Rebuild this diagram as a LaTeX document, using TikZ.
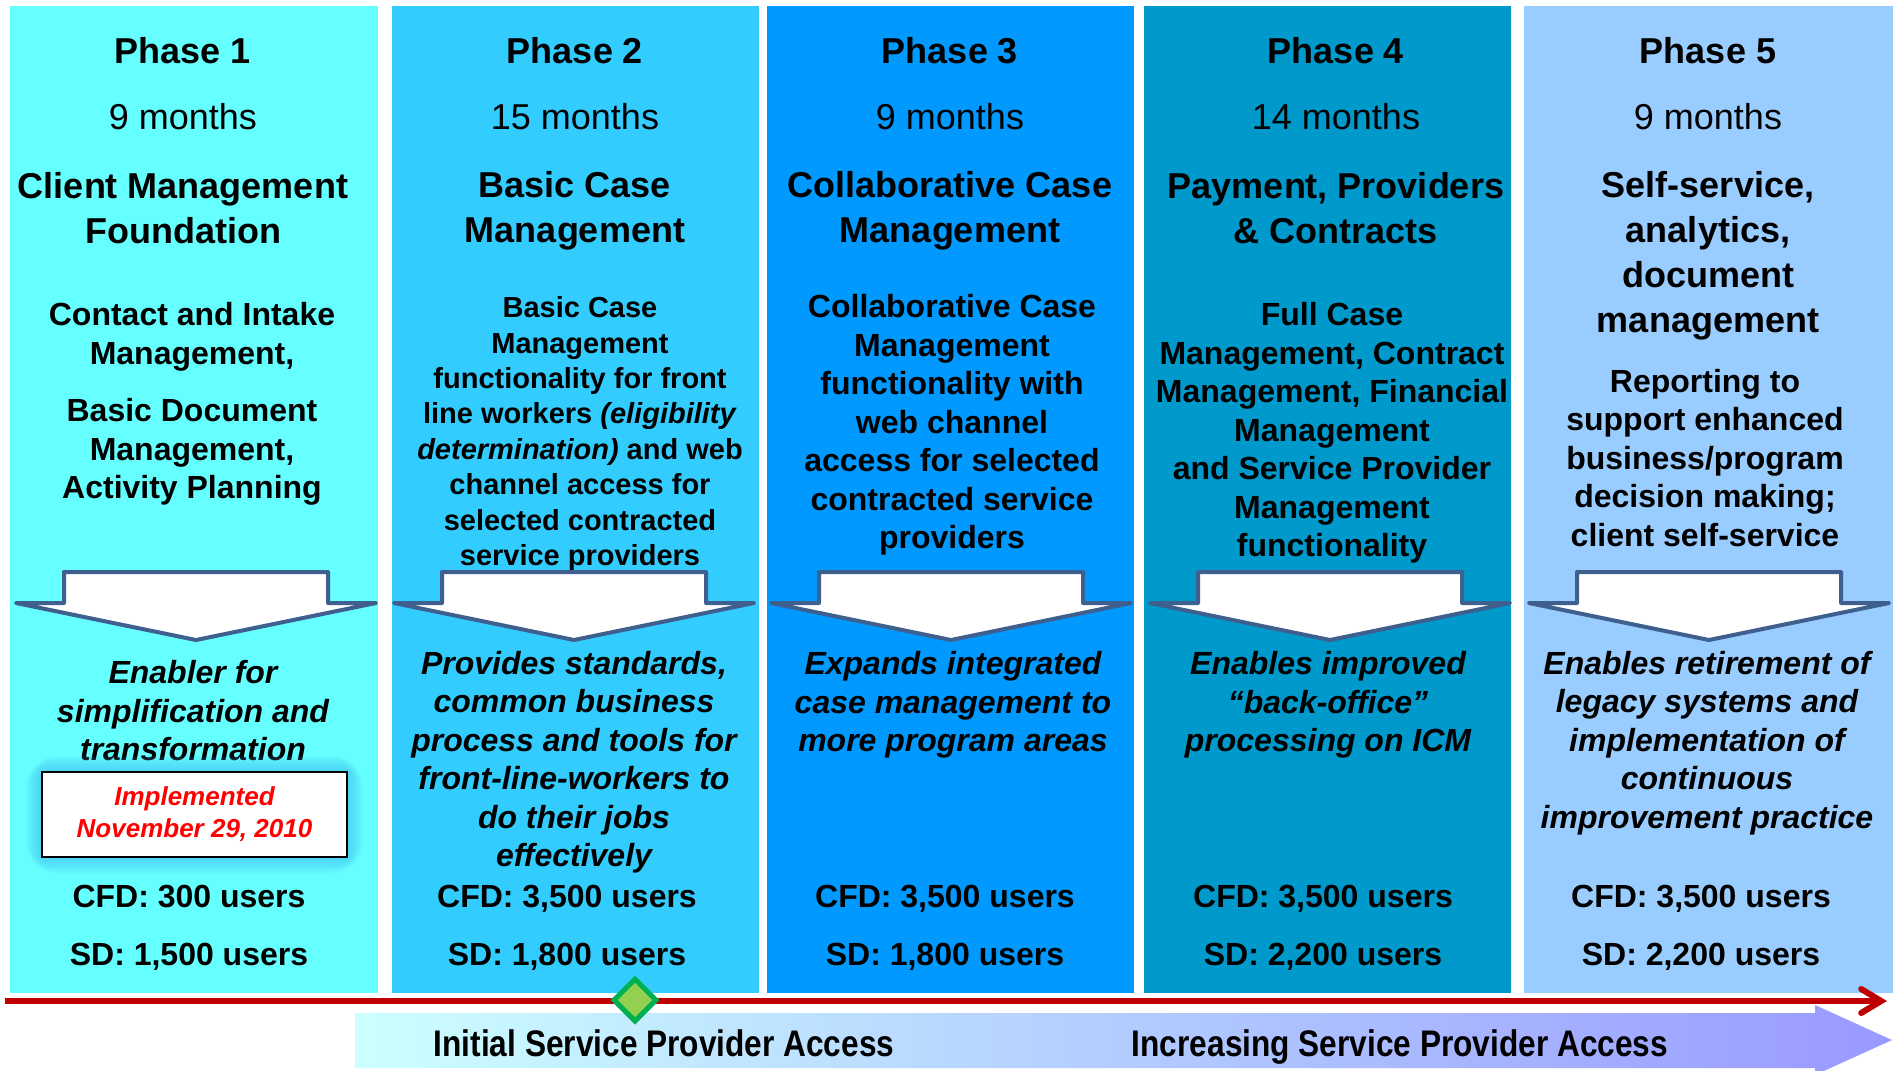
\documentclass[tikz,border=0pt]{standalone}
\usepackage{fontspec}
\setmainfont{Liberation Sans}
\newfontfamily\narrowfont[FakeStretch=0.855]{Liberation Sans}
\usetikzlibrary{positioning,arrows.meta,calc,shapes.geometric}

\definecolor{phaseA}{HTML}{66FFFF}
\definecolor{phaseB}{HTML}{33CCFF}
\definecolor{phaseC}{HTML}{0099FF}
\definecolor{phaseD}{HTML}{0099CC}
\definecolor{phaseE}{HTML}{99CCFF}
\definecolor{arrowedge}{HTML}{3F5F8F}
\definecolor{timered}{HTML}{C00000}
\definecolor{msfill}{HTML}{92D050}
\definecolor{msedge}{HTML}{00B050}
\definecolor{bannerL}{HTML}{CCFFFF}
\definecolor{bannerM}{HTML}{B8D8FF}
\definecolor{bannerR}{HTML}{9999FF}
\definecolor{glowc}{HTML}{3FBFF0}

\tikzset{
  col/.style={rectangle, draw=none, inner sep=0, minimum height=493.5pt},
  phase/.style={inner sep=0, font=\bfseries\fontsize{18}{22.5}\selectfont},
  months/.style={inner sep=0, font=\fontsize{18}{22.5}\selectfont},
  title/.style={inner sep=0, align=center, font=\bfseries\fontsize{18}{22.5}\selectfont},
  body/.style={inner sep=0, align=center, font=\bfseries\fontsize{16}{19.25}\selectfont},
  smallbody/.style={inner sep=0, align=center, font=\bfseries\fontsize{14.5}{17.7}\selectfont},
  enabler/.style={inner sep=0, align=center, font=\bfseries\itshape\fontsize{16}{19.25}\selectfont},
  users/.style={inner sep=0, text height=0.75em, text depth=0.2em, font=\bfseries\fontsize{16}{19.25}\selectfont},
  datebox/.style={rectangle, fill=white, draw=black, line width=1pt, minimum width=152.5pt,
    minimum height=42.5pt, align=center, text=red, font=\bfseries\itshape\fontsize{13}{16}\selectfont},
  milestone/.style={diamond, aspect=1, fill=msfill, draw=msedge, line width=2.5pt,
    minimum size=22pt, inner sep=0},
  banner/.style={inner sep=0, text height=0.75em, text depth=0.2em, font=\narrowfont\bfseries\fontsize{18.5}{22}\selectfont},
  timeline/.style={timered, line width=3pt},
  downarr/.pic={
    \draw[arrowedge, fill=white, line width=2pt, line join=round]
      (-132,0) -- (132,0) -- (132,31) -- (180,31) -- (0,68) -- (-180,31) -- (-132,31) -- cycle;
  }
}

\begin{document}
\begin{tikzpicture}[x=0.5pt, y=-0.5pt, node distance=29pt]

      \useasboundingbox (0,0) rectangle (1896,1071);
      \fill[white] (0,0) rectangle (1896,1071);

      % phase columns
      \node[col, fill=phaseA, minimum width=184pt] (c1) at (194,499.5) {};
      \node[col, fill=phaseB, minimum width=183.5pt] (c2) at (575.5,499.5) {};
      \node[col, fill=phaseC, minimum width=183.5pt] (c3) at (950.5,499.5) {};
      \node[col, fill=phaseD, minimum width=183.5pt] (c4) at (1327.5,499.5) {};
      \node[col, fill=phaseE, minimum width=184.5pt] (c5) at (1708.5,499.5) {};

      % phase 1
      \node[phase] (ph1) at (183,51) {Phase 1};
      \node[months] (mo1) at (183,117) {9 months};
      \node[title] (ti1) at (183,208) {Client Management\\Foundation};
      \node[body] (bd1a) at (192,337) {Contact and Intake\\Management,};
      \node[body] (bd1b) at (192,452) {Basic Document\\Management,\\Activity Planning};
      \node[enabler] (en1) at (193,711) {Enabler for\\simplification and\\transformation};
      \node[users] (cfd1) at (189,901.5) {CFD: 300 users};
      \node[users] (sd1) [below of=cfd1] {SD: 1,500 users};

      % phase 2
      \node[phase] (ph2) at (575,51) {Phase 2};
      \node[months] (mo2) at (575,117) {15 months};
      \node[title] (ti2) at (575,211) {Basic Case\\Management};
      \node[smallbody] (bd2) at (580,434) {Basic Case\\Management\\functionality for front\\line workers \textit{(eligibility}\\\textit{determination)} and web\\channel access for\\selected contracted\\service providers};
      \node[enabler] (en2) at (574,762) {Provides standards,\\common business\\process and tools for\\front-line-workers to\\do their jobs\\effectively};
      \node[users] (cfd2) at (567,901.5) {CFD: 3,500 users};
      \node[users] (sd2) [below of=cfd2] {SD: 1,800 users};

      % phase 3
      \node[phase] (ph3) at (950,51) {Phase 3};
      \node[months] (mo3) at (950,117) {9 months};
      \node[title] (ti3) at (950,211) {Collaborative Case\\Management};
      \node[body] (bd3) at (952,425) {Collaborative Case\\Management\\functionality with\\web channel\\access for selected\\contracted service\\providers};
      \node[enabler] (en3) at (953,705) {Expands integrated\\case management to\\more program areas};
      \node[users] (cfd3) at (945,901.5) {CFD: 3,500 users};
      \node[users] (sd3) [below of=cfd3] {SD: 1,800 users};

      % phase 4
      \node[phase] (ph4) at (1336,51) {Phase 4};
      \node[months] (mo4) at (1336,117) {14 months};
      \node[title] (ti4) at (1336,208) {Payment, Providers\\\& Contracts};
      \node[body] (bd4) at (1332,433) {Full Case\\Management, Contract\\Management, Financial\\Management\\and Service Provider\\Management\\functionality};
      \node[enabler] (en4) at (1328,705) {Enables improved\\“back-office”\\processing on ICM};
      \node[users] (cfd4) at (1323,901.5) {CFD: 3,500 users};
      \node[users] (sd4) [below of=cfd4] {SD: 2,200 users};

      % phase 5
      \node[phase] (ph5) at (1708,51) {Phase 5};
      \node[months] (mo5) at (1708,117) {9 months};
      \node[title] (ti5) at (1708,256) {Self-service,\\analytics,\\document\\management};
      \node[body] (bd5) at (1705,458) {Reporting to\\support enhanced\\business/program\\decision making;\\client self-service};
      \node[enabler] (en5) at (1707,743) {Enables retirement of\\legacy systems and\\implementation of\\continuous\\improvement practice};
      \node[users] (cfd5) at (1701,901.5) {CFD: 3,500 users};
      \node[users] (sd5) [below of=cfd5] {SD: 2,200 users};

      % down arrows
      \pic at (196,572) {downarr};
      \pic at (574,572) {downarr};
      \pic at (951,572) {downarr};
      \pic at (1330,572) {downarr};
      \pic at (1709,572) {downarr};

      % go-live box
      \coordinate (dtc) at (194.5,814.5);
      \foreach \i in {1,...,8}
        \fill[glowc, opacity=0.1, rounded corners=2*\i]
          ($(dtc)+(-152.5-2*\i,-42.5-2*\i)$) rectangle ($(dtc)+(152.5+2*\i,42.5+2*\i)$);
      \node[datebox] (dt) at (dtc) {Implemented\\November 29, 2010};

      % access banner
      \shade[left color=bannerL, middle color=bannerM, right color=bannerR]
        (355,1013) -- (1815,1013) -- (1815,1005) -- (1892,1040) -- (1815,1075)
        -- (1815,1068) -- (355,1068) -- cycle;
      \node[banner] (bn1) at (664,1051) {Initial Service Provider Access};
      \node[banner] (bn2) at (1400,1051) {Increasing Service Provider Access};

      % timeline
      \coordinate (tl0) at (5,1001);
      \coordinate (tl1) at (1887,1001);
      \draw[timeline, -{Straight Barb[length=10pt,width=12pt,line cap=round]}] (tl0) -- (tl1);
      \node[milestone] (ms) at (635,1000) {};

\end{tikzpicture}
\end{document}
